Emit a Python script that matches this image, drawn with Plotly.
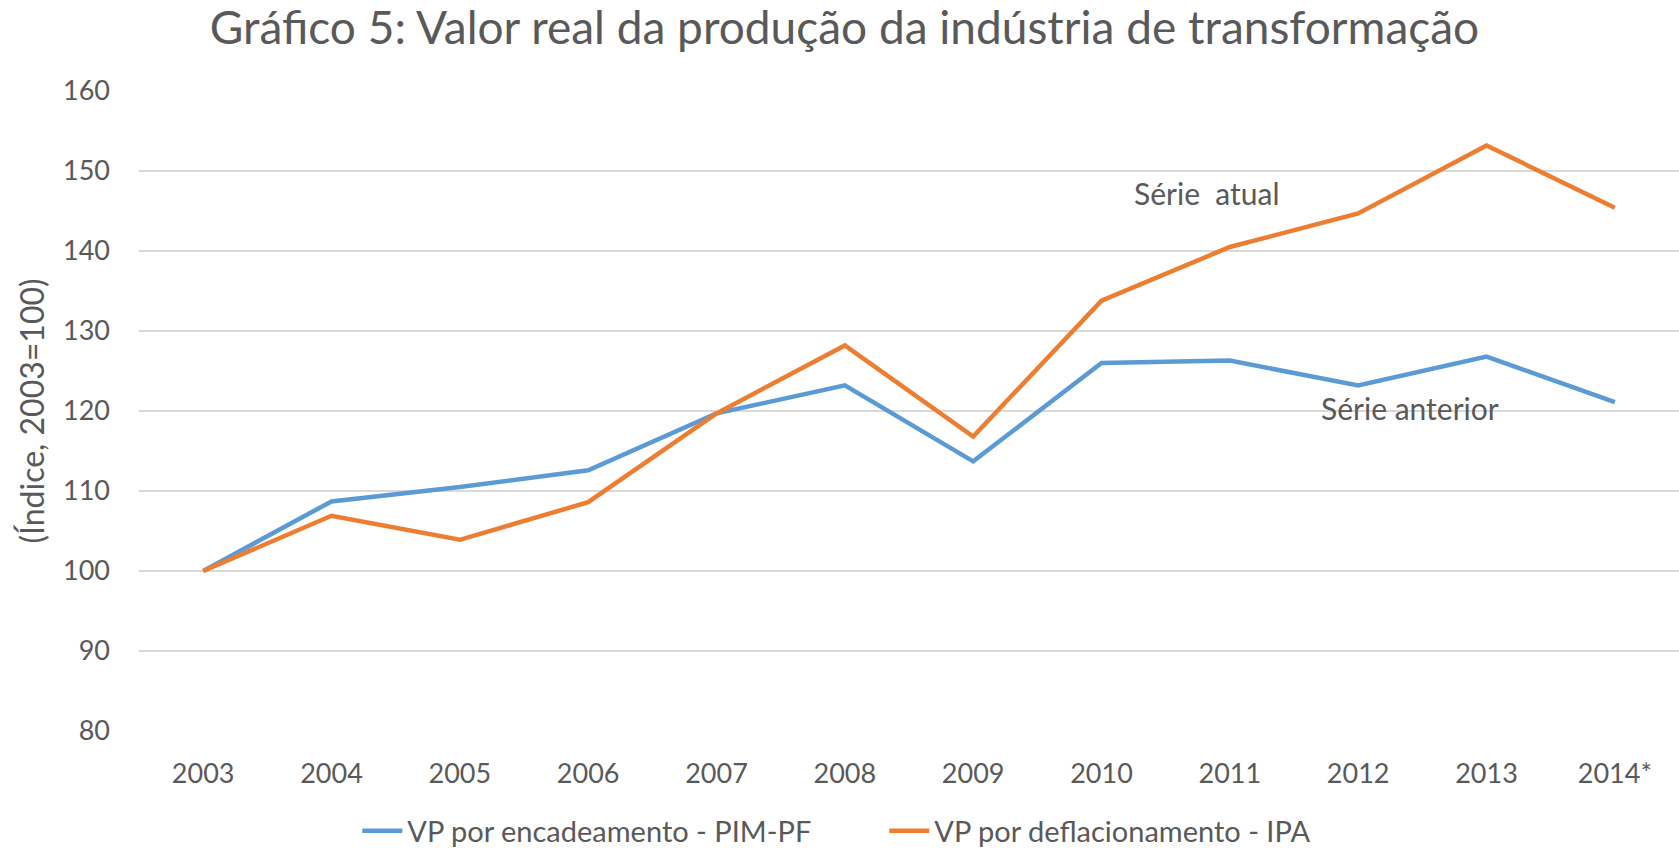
import plotly.graph_objects as go

years = ["2003", "2004", "2005", "2006", "2007", "2008", "2009", "2010", "2011", "2012", "2013", "2014*"]
encadeamento = [100.0, 108.7, 110.5, 112.6, 119.7, 123.2, 113.7, 126.0, 126.3, 123.2, 126.8, 121.1]
deflacionamento = [100.0, 106.9, 103.9, 108.6, 119.7, 128.2, 116.8, 133.8, 140.5, 144.7, 153.2, 145.4]
y_ticks = [80, 90, 100, 110, 120, 130, 140, 150, 160]

FONT = "Lato"
TXT = "#595959"

fig = go.Figure()
fig.add_trace(go.Scatter(x=years, y=encadeamento, mode="lines",
                         name="VP por encadeamento - PIM-PF",
                         line=dict(color="#5B9BD5", width=4.5)))
fig.add_trace(go.Scatter(x=years, y=deflacionamento, mode="lines",
                         name="VP por deflacionamento - IPA",
                         line=dict(color="#ED7D31", width=4.5)))

fig.add_annotation(x=7.82, y=147.3, xref="x", yref="y", text="Série  atual",
                   showarrow=False, font=dict(family=FONT, size=30, color=TXT))
fig.add_annotation(x=9.4, y=120.4, xref="x", yref="y", text="Série anterior",
                   showarrow=False, font=dict(family=FONT, size=30, color=TXT))

fig.update_layout(
    width=1679, height=849,
    paper_bgcolor="white", plot_bgcolor="white",
    margin=dict(l=139, r=0, t=91, b=118),
    font=dict(family=FONT, color=TXT, size=27),
    title=dict(text="Gráfico 5: Valor real da produção da indústria de transformação",
               x=0.503, xanchor="center", xref="container",
               y=1 - 28 / 849, yanchor="middle", yref="container",
               font=dict(family=FONT, size=46, color=TXT)),
    showlegend=True,
    legend=dict(orientation="h", xref="container", yref="container",
                x=0.2128, xanchor="left", y=1 - 831 / 849, yanchor="middle",
                font=dict(family=FONT, size=29, color=TXT),
                itemwidth=40, traceorder="normal", entrywidth=472,
                entrywidthmode="pixels"),
    xaxis=dict(type="category", range=[-0.5, 11.5], showgrid=False,
               showline=False, zeroline=False, ticks="",
               ticklabelstandoff=24,
               tickfont=dict(family=FONT, size=27, color=TXT)),
    yaxis=dict(range=[80, 160], tickvals=y_ticks, showgrid=True,
               gridcolor="#D9D9D9", gridwidth=1.5, zeroline=False,
               showline=False, ticks="", ticklabelstandoff=28,
               tickfont=dict(family=FONT, size=27, color=TXT),
               title=dict(text="(Índice, 2003=100)", standoff=8,
                          font=dict(family=FONT, size=32, color=TXT))),
)

fig.write_html("out.html", config={"displayModeBar": False},
               post_script="document.body.style.margin='0';")
